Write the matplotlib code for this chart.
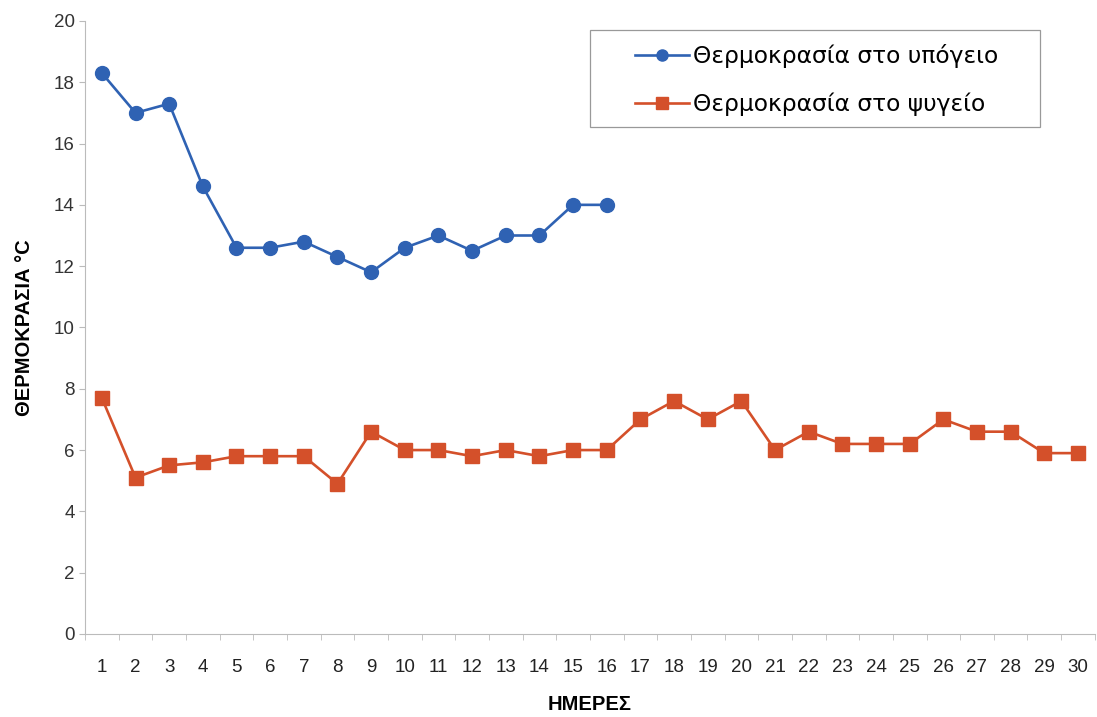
import matplotlib
matplotlib.use("Agg")
from matplotlib import pyplot as plt
from matplotlib.patches import Rectangle
import numpy as np

plt.rcParams['font.family'] = ['Liberation Sans', 'DejaVu Sans']

days = list(range(1, 31))
basement = [18.3, 17.0, 17.3, 14.6, 12.6, 12.6, 12.8, 12.3, 11.8, 12.6,
            13.0, 12.5, 13.0, 13.0, 14.0, 14.0]
fridge = [7.7, 5.1, 5.5, 5.6, 5.8, 5.8, 5.8, 4.9, 6.6, 6.0,
          6.0, 5.8, 6.0, 5.8, 6.0, 6.0, 7.0, 7.6, 7.0, 7.6,
          6.0, 6.6, 6.2, 6.2, 6.2, 7.0, 6.6, 6.6, 5.9, 5.9]
label_basement = 'Θερμοκρασία στο υπόγειο'
label_fridge = 'Θερμοκρασία στο ψυγείο'

blue = '#2f62b3'
orange = '#d4502a'

fig = plt.figure(figsize=(10.97, 7.17), dpi=100)
ax = fig.add_axes([0.0775, 0.1158, 0.9205, 0.855])

ax.plot(days[:len(basement)], basement, color=blue, marker='o', markersize=10,
        linewidth=1.9, label=label_basement)
ax.plot(days, fridge, color=orange, marker='s', markersize=10,
        linewidth=1.9, label=label_fridge)

ax.set_xlim(0.5, 30.5)
ax.set_ylim(0, 20)
ax.set_yticks(np.arange(0, 21, 2))
ax.set_xticks(days)
ax.set_xticks(np.arange(0.5, 31, 1), minor=True)
ax.tick_params(axis='x', which='major', length=0, pad=18, labelsize=13.5, colors='#222222')
ax.tick_params(axis='x', which='minor', length=4, color='#bbbbbb')
ax.tick_params(axis='y', length=4, color='#bbbbbb', labelsize=13.5, colors='#333333')

for s in ['top', 'right']:
    ax.spines[s].set_visible(False)
for s in ['left', 'bottom']:
    ax.spines[s].set_color('#bbbbbb')

ax.set_xlabel('ΗΜΕΡΕΣ', fontsize=14.5, fontweight='bold', labelpad=14)
ax.set_ylabel('ΘΕΡΜΟΚΡΑΣΙΑ °C', fontsize=14.5, fontweight='bold', labelpad=14)

# legend frame drawn separately so the inner padding can be wider than matplotlib allows
ax.add_patch(Rectangle((0.5, 0.827), 0.4455, 0.158, transform=ax.transAxes,
                       facecolor='white', edgecolor='#999999', linewidth=0.9,
                       clip_on=False, zorder=4))
leg = ax.legend(loc='upper left', bbox_to_anchor=(0.5446, 0.9625),
                prop={'family': 'DejaVu Sans', 'size': 16.8},
                frameon=False, borderpad=0, labelspacing=1.05, markerscale=0.8,
                handlelength=2.3, handletextpad=0.2, borderaxespad=0)
leg.set_zorder(5)

fig.savefig('out.png', dpi=100, facecolor='white')
